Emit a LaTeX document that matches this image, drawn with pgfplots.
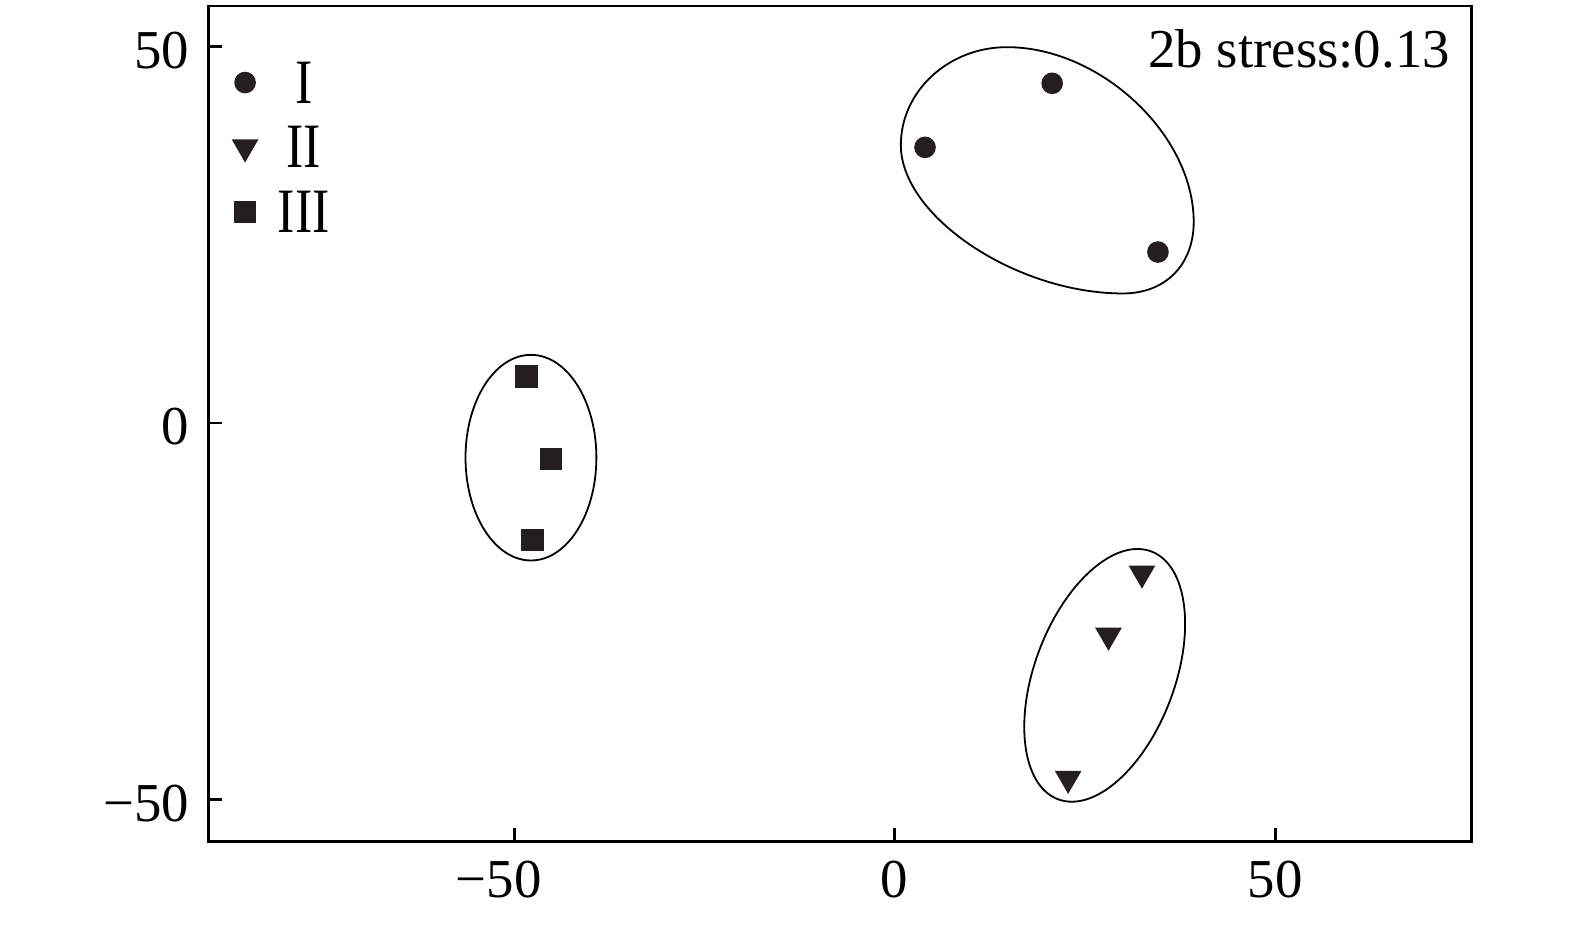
\documentclass[border=0pt]{standalone}
\usepackage{fontspec}
\setmainfont{Liberation Serif}
\newfontfamily\legfont[FakeStretch=0.82]{Liberation Serif}
\usepackage{pgfplots}
\usepackage{pgfplotstable}
\pgfplotsset{compat=1.18}
\definecolor{mk}{HTML}{231F20}

\pgfplotstableread{
x y
3.99 36.6
20.7 45.1
34.6 22.7
}\groupI
\pgfplotstableread{
x y
32.5 -19.95
28.1 -28.2
22.8 -47.2
}\groupII
\pgfplotstableread{
x y
-48.4 6.15
-45.2 -4.78
-47.6 -15.5
}\groupIII

\begin{document}
\begin{tikzpicture}
\begin{axis}[
  scale only axis, width=315.85pt, height=208.9pt,
  at={(0pt,0pt)}, anchor=south west,
  xmin=-90.2, xmax=75.85, ymin=-55.58, ymax=55.36,
  xtick={-50,0,50}, xticklabels={\llap{−}50,0,50},
  ytick={-50,0,50}, yticklabels={−50,0,50},
  tick align=inside, xtick pos=left, ytick pos=left,
  major tick length=3.5pt,
  axis line style={line width=0.7pt},
  tick style={line width=0.7pt, black},
  tick label style={font=\fontsize{13.7}{16}\selectfont},
  xticklabel style={yshift=-1.2pt},
  yticklabel style={yshift=-1pt, xshift=-1.3pt},
  legend style={draw=none, fill=none, at={(axis description cs:0,1)}, anchor=north west,
    xshift=6pt, yshift=-11.75pt, inner xsep=0pt, inner ysep=0pt,
    font=\legfont\fontsize{15.8}{18}\selectfont, row sep=1.8pt,
    nodes={inner sep=2pt, text depth=0pt},
    /tikz/every odd column/.append style={column sep=3.2pt}},
  legend cell align=center,
  legend image code/.code={\draw[#1] plot coordinates {(0pt,0pt)};},
]
\draw[line width=0.45pt, black] (axis cs:-47.8,-4.6) ellipse [x radius=8.6, y radius=13.65];
\draw[line width=0.45pt, black, rotate around={69.4:(axis cs:27.6,-33.5)}] (axis cs:27.6,-33.5) ellipse [x radius=17.4, y radius=9.3];
\draw[line width=0.45pt, black] (0.81,36.9)
  .. controls (0.81,44.05) and (7.08,49.9) .. (14.75,49.9)
  .. controls (27.03,49.9) and (39.3,38.3) .. (39.3,26.7)
  .. controls (39.3,21.0) and (35.58,17.2) .. (30,17.2)
  .. controls (15.99,17.2) and (0.81,27.44) .. cycle;
\addplot[only marks, mark=*, mark size=2.5pt, mk] table {\groupI};
\addplot[only marks, mark=triangle*, mark size=3.45pt, mark options={rotate=180}, mk] table {\groupII};
\addplot[only marks, mark=square*, mark size=2.6pt, mk] table {\groupIII};
\legend{I,II,III}
\node[anchor=base east, inner sep=0pt, xshift=-5.3pt, yshift=-15.4pt, font=\fontsize{13.7}{16}\selectfont] at (rel axis cs:1,1) {2b stress:0.13};
\end{axis}
\pgfresetboundingbox
\path (-52.08pt,-20.8pt) rectangle (341.65pt,210.4pt);
\end{tikzpicture}
\end{document}
